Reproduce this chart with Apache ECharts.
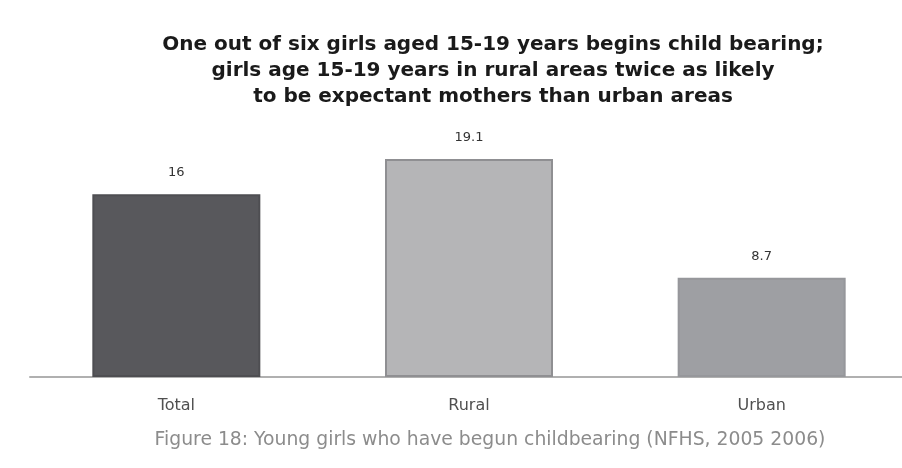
<!DOCTYPE html>
<html>
<head>
<meta charset="utf-8">
<script src="https://cdn.jsdelivr.net/npm/echarts@6/dist/echarts.min.js"></script>
<style>
  html, body { margin: 0; padding: 0; background: #ffffff; overflow: hidden; }
  #chart { width: 908px; height: 468px; }
</style>
</head>
<body>
<div id="chart"></div>
<script>
// Share of girls aged 15-19 who have begun childbearing (%)
const categories = ['Total', 'Rural', 'Urban'];
const values = [16, 19.1, 8.7];
const valueLabels = ['16', '19.1', '8.7'];
const barColors = ['#58585c', '#b5b5b7', '#9e9fa3'];
const barBorders = ['#4e4e52', '#8f8f92', '#96979b'];

const titleLines = [
  'One out of six girls aged 15-19 years begins child bearing;',
  'girls age 15-19 years in rural areas twice as likely',
  'to be expectant mothers than urban areas'
];
const caption = 'Figure 18: Young girls who have begun childbearing (NFHS, 2005 2006)';

const chart = echarts.init(document.getElementById('chart'), null, { renderer: 'canvas' });

chart.setOption({
  backgroundColor: '#ffffff',
  animation: false,
  title: [
    {
      text: titleLines.join('\n'),
      left: 488,
      top: 27,
      textAlign: 'center',
      textStyle: {
        fontFamily: 'DejaVu Sans, sans-serif',
        fontWeight: 'bold',
        fontSize: 20,
        lineHeight: 26,
        color: '#1a1a1a'
      }
    },
    {
      text: caption,
      left: 485,
      top: 426,
      textAlign: 'center',
      textStyle: {
        fontFamily: 'DejaVu Sans, sans-serif',
        fontWeight: 'normal',
        fontSize: 18.8,
        color: '#8c8c8c'
      }
    }
  ],
  grid: { left: 30, right: 0, top: 151, bottom: 91 },
  xAxis: {
    type: 'category',
    data: categories,
    axisLine: { show: true, lineStyle: { color: '#b0b0b0', width: 2 } },
    axisTick: { show: false },
    axisLabel: {
      color: '#505050',
      fontSize: 16,
      fontFamily: 'DejaVu Sans, sans-serif',
      margin: 21
    }
  },
  yAxis: {
    type: 'value',
    min: 0,
    max: 19.8,
    show: false,
    splitLine: { show: false }
  },
  series: [{
    type: 'bar',
    barWidth: 168,
    data: values.map((v, i) => ({
      value: v,
      itemStyle: { color: barColors[i], borderColor: barBorders[i], borderWidth: 2 }
    })),
    label: {
      show: true,
      position: 'top',
      distance: 15,
      color: '#333333',
      fontSize: 13,
      fontFamily: 'DejaVu Sans, sans-serif',
      formatter: p => valueLabels[p.dataIndex]
    }
  }]
});
</script>
</body>
</html>
